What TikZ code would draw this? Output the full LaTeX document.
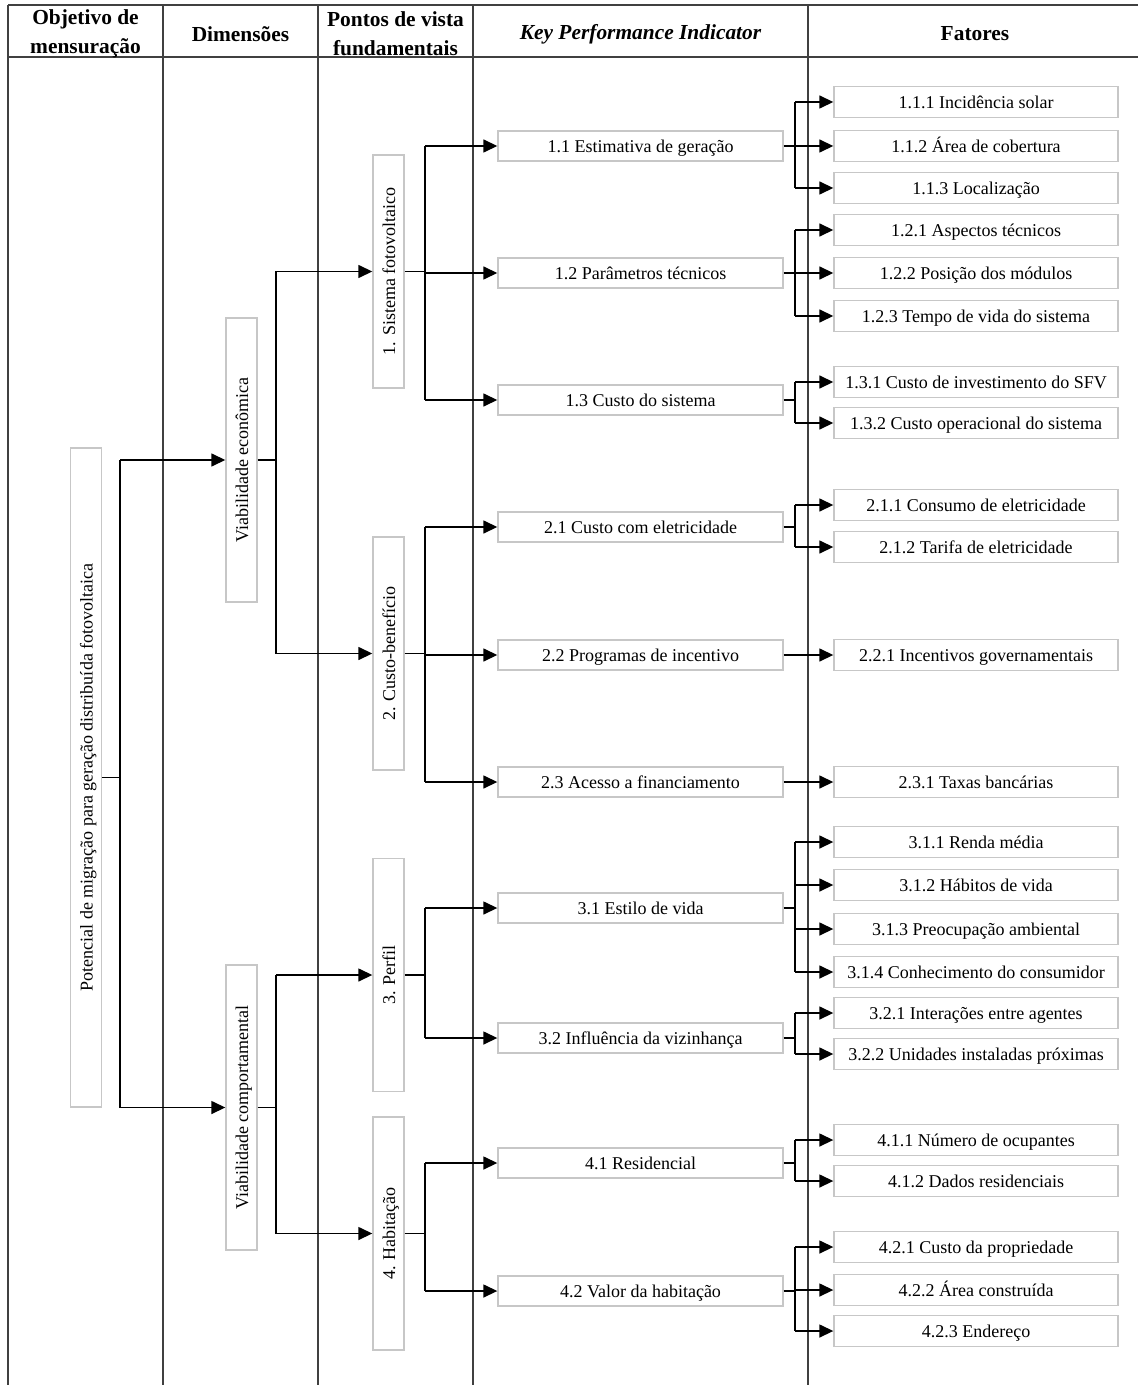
\documentclass[tikz,border=0pt]{standalone}
\usepackage{fontspec}
\setmainfont{Liberation Serif}
\usetikzlibrary{arrows.meta}
\begin{document}
\begin{tikzpicture}[x=0.5pt,y=-0.5pt,
 tline/.style={draw=black!75,line width=1pt},
 conn/.style={draw=black,line width=0.75pt},
 arr/.style={conn,-{Triangle[length=7pt,width=6.5pt]}},
 box/.style={draw=black!22,line width=0.7pt,fill=white,inner sep=0pt,text height=7.5pt,text depth=1pt,font=\fontsize{9}{11}\selectfont},
 kpi/.style={box,minimum width=142.5pt,minimum height=15pt},
 fat/.style={box,minimum width=142pt,minimum height=15.5pt},
 vbox/.style={box,rotate=90,minimum height=15.5pt},
 head/.style={font=\fontsize{10.7}{14.5}\selectfont\bfseries,align=center}
]
\useasboundingbox (0,0) rectangle (1138,1385);
% table
\draw[tline] (8,5) -- (1138,5);
\draw[tline] (8,57) -- (1138,57);
\foreach \x in {8,163,318,473,808} \draw[tline] (\x,5) -- (\x,1385);
% headers
\node[head] (h1) at (85.5,33.5) {Objetivo de\\mensuração};
\node[head] (h2) at (240.5,34) {Dimensões};
\node[head] (h3) at (395.5,33.5) {Pontos de vista\\fundamentais};
\node[head] (h4) at (640.5,34) {\itshape Key Performance Indicator};
\node[head] (h5) at (975,34) {Fatores};
% vertical boxes
\node[vbox,minimum width=329.5pt] (obj) at (86,777.5) {Potencial de migração para geração distribuída fotovoltaica};
\node[vbox,minimum width=142pt] (ve) at (241.5,460) {Viabilidade econômica};
\node[vbox,minimum width=142.5pt] (vc) at (241.5,1107.5) {Viabilidade comportamental};
\node[vbox,minimum width=116.5pt] (p1) at (388.5,271.5) {1. Sistema fotovoltaico};
\node[vbox,minimum width=116.5pt] (p2) at (388.5,653.5) {2. Custo-benefício};
\node[vbox,minimum width=116.5pt] (p3) at (388.5,975) {3. Perfil};
\node[vbox,minimum width=116.5pt] (p4) at (388.5,1233.5) {4. Habitação};
% KPI
\node[kpi] (k11) at (640.5,146) {1.1 Estimativa de geração};
\node[kpi] (k12) at (640.5,273) {1.2 Parâmetros técnicos};
\node[kpi] (k13) at (640.5,400) {1.3 Custo do sistema};
\node[kpi] (k21) at (640.5,527) {2.1 Custo com eletricidade};
\node[kpi] (k22) at (640.5,655) {2.2 Programas de incentivo};
\node[kpi] (k23) at (640.5,782) {2.3 Acesso a financiamento};
\node[kpi] (k31) at (640.5,908) {3.1 Estilo de vida};
\node[kpi] (k32) at (640.5,1038) {3.2 Influência da vizinhança};
\node[kpi] (k41) at (640.5,1163) {4.1 Residencial};
\node[kpi] (k42) at (640.5,1291) {4.2 Valor da habitação};
% factors
\node[fat] (f111) at (976,102) {1.1.1 Incidência solar};
\node[fat] (f112) at (976,146) {1.1.2 Área de cobertura};
\node[fat] (f113) at (976,188) {1.1.3 Localização};
\node[fat] (f121) at (976,230) {1.2.1 Aspectos técnicos};
\node[fat] (f122) at (976,273) {1.2.2 Posição dos módulos};
\node[fat] (f123) at (976,316) {1.2.3 Tempo de vida do sistema};
\node[fat] (f131) at (976,382) {1.3.1 Custo de investimento do SFV};
\node[fat] (f132) at (976,423) {1.3.2 Custo operacional do sistema};
\node[fat] (f211) at (976,505) {2.1.1 Consumo de eletricidade};
\node[fat] (f212) at (976,547) {2.1.2 Tarifa de eletricidade};
\node[fat] (f221) at (976,655) {2.2.1 Incentivos governamentais};
\node[fat] (f231) at (976,782) {2.3.1 Taxas bancárias};
\node[fat] (f311) at (976,842) {3.1.1 Renda média};
\node[fat] (f312) at (976,885) {3.1.2 Hábitos de vida};
\node[fat] (f313) at (976,929) {3.1.3 Preocupação ambiental};
\node[fat] (f314) at (976,972) {3.1.4 Conhecimento do consumidor};
\node[fat] (f321) at (976,1013) {3.2.1 Interações entre agentes};
\node[fat] (f322) at (976,1054) {3.2.2 Unidades instaladas próximas};
\node[fat] (f411) at (976,1140) {4.1.1 Número de ocupantes};
\node[fat] (f412) at (976,1181) {4.1.2 Dados residenciais};
\node[fat] (f421) at (976,1247) {4.2.1 Custo da propriedade};
\node[fat] (f422) at (976,1290) {4.2.2 Área construída};
\node[fat] (f423) at (976,1331) {4.2.3 Endereço};
% buses
\coordinate (b1) at (120,0);
\coordinate (b2) at (276,0);
\coordinate (b3) at (425,0);
\coordinate (b4) at (795,0);
% col1 -> col2
\draw[conn] (obj.south) -- (obj.south -| b1);
\draw[conn] (b1 |- ve.north) -- (b1 |- vc.north);
\foreach \c in {ve,vc} \draw[arr] (b1 |- \c.north) -- (\c.north);
% col2 -> col3
\foreach \p/\f/\l in {ve/p1/p2, vc/p3/p4} {
  \draw[conn] (\p.south) -- (\p.south -| b2);
  \draw[conn] (b2 |- \f.north) -- (b2 |- \l.north);
}
\foreach \c in {p1,p2,p3,p4} \draw[arr] (b2 |- \c.north) -- (\c.north);
% col3 -> KPI
\foreach \p/\f/\l in {p1/k11/k13, p2/k21/k23, p3/k31/k32, p4/k41/k42} {
  \draw[conn] (\p.south) -- (\p.south -| b3);
  \draw[conn] (b3 |- \f.west) -- (b3 |- \l.west);
}
\foreach \c in {k11,k12,k13,k21,k22,k23,k31,k32,k41,k42} \draw[arr] (b3 |- \c.west) -- (\c.west);
% KPI -> factors
\foreach \p/\f/\l in {k11/f111/f113, k12/f121/f123, k13/f131/f132, k21/f211/f212, k22/f221/f221, k23/f231/f231, k31/f311/f314, k32/f321/f322, k41/f411/f412, k42/f421/f423} {
  \draw[conn] (\p.east) -- (\p.east -| b4);
  \draw[conn] (b4 |- \f.west) -- (b4 |- \l.west);
}
\foreach \c in {f111,f112,f113,f121,f122,f123,f131,f132,f211,f212,f221,f231,f311,f312,f313,f314,f321,f322,f411,f412,f421,f422,f423}
  \draw[arr] (b4 |- \c.west) -- (\c.west);
\end{tikzpicture}
\end{document}
